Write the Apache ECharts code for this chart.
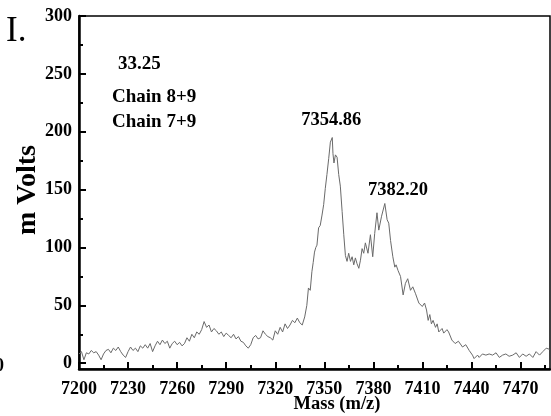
<!DOCTYPE html>
<html>
<head>
<meta charset="utf-8">
<script src="https://cdn.jsdelivr.net/npm/echarts@6/dist/echarts.min.js"></script>
<style>
  html, body { margin: 0; padding: 0; background: #fff; }
  #chart { width: 551px; height: 416px; }
</style>
</head>
<body>
<div id="chart"></div>
<script>
// Spectrum trace, [mass (m/z), signal (mV)]
const baselineRise = [
  [7200, 8], [7201.5, 10], [7203, 3], [7204.5, 9], [7206, 8], [7207.5, 11], [7209, 9], [7210.5, 10],
  [7212, 7], [7213.5, 3], [7215, 8], [7216.5, 11], [7218, 12], [7219.5, 9], [7221, 13], [7222.5, 11],
  [7224, 14], [7225.5, 10], [7227, 7], [7228.5, 5], [7230, 10], [7231.5, 14], [7233, 11], [7234.5, 13],
  [7236, 10], [7237.5, 15], [7239, 13], [7240.5, 16], [7242, 13], [7243.5, 17], [7245, 10], [7246.5, 15],
  [7248, 19], [7249.5, 16], [7251, 20], [7252.5, 17], [7254, 19], [7255.5, 13], [7257, 17], [7258.5, 19],
  [7260, 16], [7261.5, 18], [7263, 15], [7264.5, 17], [7266, 22], [7267.5, 19], [7269, 25], [7270.5, 22],
  [7272, 27], [7273.5, 25], [7275, 29], [7276.5, 36], [7278, 31], [7279.5, 33], [7281, 27], [7282.5, 30],
  [7284, 28], [7285.5, 25], [7287, 27], [7288.5, 23], [7290, 26], [7291.5, 24], [7293, 22], [7294.5, 25],
  [7296, 21], [7297.5, 23], [7299, 19], [7300.5, 18], [7302, 15], [7303.5, 13], [7305, 16], [7306.5, 22],
  [7308, 24], [7309.5, 21], [7311, 22], [7312.5, 28], [7314, 25], [7315.5, 23], [7317, 22], [7318.5, 20],
  [7320, 28], [7321.5, 25], [7323, 31], [7324.5, 27], [7326, 34], [7327.5, 30], [7329, 33], [7330.5, 37],
  [7332, 35], [7333.5, 39], [7335, 35], [7336.5, 33], [7338, 40]
];
const mainPeak = [
  [7339.3, 50], [7340.3, 65], [7341.4, 63], [7342.4, 79], [7343.2, 87], [7344, 96], [7344.8, 100],
  [7345.5, 102], [7346.5, 117], [7347.5, 119], [7348.6, 128], [7349.6, 137], [7350.6, 151], [7351.6, 163],
  [7352.7, 177], [7353.7, 191], [7354.86, 195], [7355.3, 181], [7355.9, 173], [7356.8, 180], [7357.8, 178],
  [7358.8, 163], [7359.8, 153], [7360.9, 131], [7361.9, 111], [7362.9, 93], [7363.9, 88], [7364.9, 95],
  [7366, 88], [7367, 92], [7368, 85], [7369, 91], [7370, 86], [7371.1, 82], [7372.1, 89]
];
const shoulderPeak = [
  [7373.1, 99], [7374.1, 95], [7375.1, 104], [7376.7, 95], [7378.2, 111], [7379.6, 92], [7380.8, 112],
  [7382.20, 130], [7383.3, 115], [7385, 127], [7387, 138], [7388.4, 124], [7389.4, 121], [7390.5, 106],
  [7391.9, 92], [7393.1, 83], [7393.9, 85], [7395.1, 80], [7396.6, 75], [7398.2, 59], [7399.6, 69],
  [7401, 73], [7402.7, 63], [7404.1, 66], [7405.8, 60], [7407.8, 52], [7409.9, 49], [7411.3, 52], [7412.5, 46]
];
const tail = [
  [7413.5, 37], [7414.5, 42], [7415.5, 34], [7416.5, 37], [7418, 31], [7419, 34], [7420, 27], [7422, 30],
  [7423, 26], [7425, 29], [7426, 27], [7428, 20], [7430, 17], [7432, 19], [7434.5, 14], [7436.5, 16],
  [7438.6, 11], [7440.6, 7], [7441.6, 4], [7443.7, 7], [7444.7, 5], [7446.7, 8], [7448.8, 7], [7450.8, 8],
  [7452.9, 7], [7455, 9], [7457, 5], [7459, 7], [7461, 8], [7463, 6], [7465.2, 7], [7467.3, 9],
  [7469.3, 5], [7471.3, 8], [7473.4, 6], [7475.4, 8], [7477.5, 5], [7479.5, 10], [7481.6, 7], [7483.6, 10],
  [7485.7, 13], [7487.7, 12]
];

// Labelled peak masses
const peakMasses = [7354.86, 7382.20];
const peakLabelOffsets = [[-1, -17], [21, -23]];

// Axis ticks
const xMajorTicks = [7200, 7230, 7260, 7290, 7320, 7350, 7380, 7410, 7440, 7470];
const xMinorTicks = [7215, 7245, 7275, 7305, 7335, 7365, 7395, 7425, 7455, 7485];
const yMajorTicks = [0, 50, 100, 150, 200, 250, 300];
const yMinorTicks = [25, 75, 125, 175, 225, 275];

// Annotation text
const panelTag = 'I.';
const sampleNotes = ['33.25', 'Chain 8+9', 'Chain 7+9'];
const xTitle = 'Mass (m/z)';
const yTitle = 'm Volts';

const spectrum = baselineRise.concat(mainPeak, shoulderPeak, tail);
const FONT = '"Liberation Serif", "Times New Roman", serif';

const peakPoints = peakMasses.map((m, i) => {
  const p = spectrum.find(d => d[0] === m);
  return {
    coord: [p[0], p[1]],
    value: p[0],
    label: { offset: peakLabelOffsets[i] }
  };
});

const chart = echarts.init(document.getElementById('chart'), null, { renderer: 'canvas' });

const xBase = { type: 'value', min: 7200, max: 7488, gridIndex: 0, splitLine: { show: false } };
const yBase = { type: 'value', min: -5, max: 300, gridIndex: 0, splitLine: { show: false } };
const plain = v => String(v);

chart.setOption({
  animation: false,
  backgroundColor: '#fff',
  grid: { left: 79, right: 1, top: 16, bottom: 47, show: true, borderColor: '#000', borderWidth: 1.5, backgroundColor: 'transparent' },
  xAxis: [
    Object.assign({}, xBase, {
      position: 'bottom',
      axisLine: { show: true, onZero: false, lineStyle: { color: '#000', width: 2.5 } },
      axisTick: { show: true, inside: true, length: 7, customValues: xMajorTicks, lineStyle: { color: '#000', width: 2 } },
      axisLabel: { show: true, customValues: xMajorTicks, formatter: plain, color: '#000', fontFamily: FONT, fontWeight: 'bold', fontSize: 18, margin: 11 }
    }),
    Object.assign({}, xBase, {
      position: 'bottom',
      axisLine: { show: false, onZero: false },
      axisTick: { show: true, inside: true, length: 4, customValues: xMinorTicks, lineStyle: { color: '#000', width: 2 } },
      axisLabel: { show: false }
    })
  ],
  yAxis: [
    Object.assign({}, yBase, {
      position: 'left',
      axisLine: { show: true, onZero: false, lineStyle: { color: '#000', width: 2.5 } },
      axisTick: { show: true, inside: true, length: 7, customValues: yMajorTicks, lineStyle: { color: '#000', width: 2 } },
      axisLabel: { show: true, customValues: yMajorTicks, formatter: plain, color: '#000', fontFamily: FONT, fontWeight: 'bold', fontSize: 18, margin: 7 }
    }),
    Object.assign({}, yBase, {
      position: 'left',
      axisLine: { show: false, onZero: false },
      axisTick: { show: true, inside: true, length: 4, customValues: yMinorTicks, lineStyle: { color: '#000', width: 2 } },
      axisLabel: { show: false }
    })
  ],
  series: [{
    type: 'line',
    xAxisIndex: 0,
    yAxisIndex: 0,
    data: spectrum,
    symbol: 'none',
    lineStyle: { color: '#6a6a6a', width: 1 },
    markPoint: {
      symbol: 'circle',
      symbolSize: 0,
      itemStyle: { color: 'transparent' },
      label: {
        show: true,
        position: 'inside',
        color: '#000',
        fontFamily: FONT,
        fontWeight: 'bold',
        fontSize: 18.5,
        formatter: p => p.value.toFixed(2)
      },
      data: peakPoints
    }
  }],
  graphic: [
    { type: 'text', x: 6, y: 32, style: { text: panelTag, fill: '#000', fontFamily: FONT, fontSize: 35, fontWeight: 'normal', align: 'left', verticalAlign: 'middle' } },
    { type: 'text', x: 118, y: 64, style: { text: sampleNotes[0], fill: '#000', fontFamily: FONT, fontSize: 19, fontWeight: 'bold', align: 'left', verticalAlign: 'middle' } },
    { type: 'text', x: 112, y: 97, style: { text: sampleNotes[1], fill: '#000', fontFamily: FONT, fontSize: 19, fontWeight: 'bold', align: 'left', verticalAlign: 'middle' } },
    { type: 'text', x: 112, y: 122, style: { text: sampleNotes[2], fill: '#000', fontFamily: FONT, fontSize: 19, fontWeight: 'bold', align: 'left', verticalAlign: 'middle' } },
    { type: 'text', x: 28, y: 190, rotation: Math.PI / 2, style: { text: yTitle, fill: '#000', fontFamily: FONT, fontSize: 28, fontWeight: 'bold', align: 'center', verticalAlign: 'middle' } },
    { type: 'text', x: 337, y: 404, style: { text: xTitle, fill: '#000', fontFamily: FONT, fontSize: 18.5, fontWeight: 'bold', align: 'center', verticalAlign: 'middle' } },
    { type: 'text', x: -5, y: 366, style: { text: '0', fill: '#000', fontFamily: FONT, fontSize: 18, fontWeight: 'bold', align: 'left', verticalAlign: 'middle' } }
  ]
});
</script>
</body>
</html>
